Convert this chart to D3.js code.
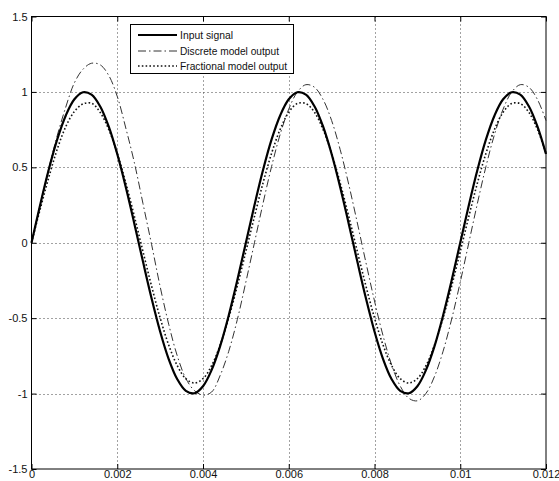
<!DOCTYPE html>
<html>
<head>
<meta charset="utf-8">
<script src="https://cdn.jsdelivr.net/npm/d3@7"></script>
<style>
  html, body { margin: 0; padding: 0; background: #fff; }
  svg { display: block; }
  text { font-family: "Liberation Sans", Arial, sans-serif; fill: #111; }
</style>
</head>
<body>
<svg id="chart" width="559" height="481"></svg>
<script>
// ---- data ----
const timeS = [0,0.0002,0.0004,0.0006,0.0008,0.0010,0.0012,0.0014,0.0016,0.0018,
  0.0020,0.0022,0.0024,0.0026,0.0028,0.0030,0.0032,0.0034,0.0036,0.0038,
  0.0040,0.0042,0.0044,0.0046,0.0048,0.0050,0.0052,0.0054,0.0056,0.0058,
  0.0060,0.0062,0.0064,0.0066,0.0068,0.0070,0.0072,0.0074,0.0076,0.0078,
  0.0080,0.0082,0.0084,0.0086,0.0088,0.0090,0.0092,0.0094,0.0096,0.0098,
  0.0100,0.0102,0.0104,0.0106,0.0108,0.0110,0.0112,0.0114,0.0116,0.0118,0.0120];

const inputSignal = [0,0.249,0.482,0.685,0.844,0.951,0.998,0.982,0.905,0.771,
  0.588,0.368,0.125,-0.125,-0.368,-0.588,-0.771,-0.905,-0.982,-0.998,
  -0.951,-0.844,-0.685,-0.482,-0.249,
  0,0.249,0.482,0.685,0.844,0.951,0.998,0.982,0.905,0.771,
  0.588,0.368,0.125,-0.125,-0.368,-0.588,-0.771,-0.905,-0.982,-0.998,
  -0.951,-0.844,-0.685,-0.482,-0.249,
  0,0.249,0.482,0.685,0.844,0.951,0.998,0.982,0.905,0.771,0.588];

const discreteOutput = [0,0.25,0.49,0.71,0.90,1.06,1.15,1.19,1.18,1.11,
  0.97,0.76,0.53,0.26,-0.01,-0.29,-0.54,-0.75,-0.90,-0.98,
  -1.01,-0.99,-0.88,-0.72,-0.51,-0.26,
  0,0.261,0.506,0.719,0.886,0.999,1.048,1.031,0.950,0.810,
  0.617,0.386,0.131,-0.131,-0.386,-0.617,-0.810,-0.950,-1.031,-1.048,
  -0.999,-0.886,-0.719,-0.506,-0.261,0,0.261,0.506,0.719,0.886,
  0.999,1.048,1.031,0.950,0.810];

const fractionalOutput = [0,0.22,0.43,0.62,0.77,0.87,0.92,0.925,0.865,0.752,
  0.593,0.396,0.174,
  -0.058,-0.287,-0.498,-0.678,-0.815,-0.901,-0.930,-0.901,-0.815,-0.678,-0.498,-0.287,-0.058,
  0.174,0.396,0.593,0.752,0.865,0.923,0.923,0.865,0.752,0.593,0.396,0.174,
  -0.058,-0.287,-0.498,-0.678,-0.815,-0.901,-0.930,-0.901,-0.815,-0.678,-0.498,-0.287,-0.058,
  0.174,0.396,0.593,0.752,0.865,0.923,0.923,0.865,0.752,0.593];

const xTicks = [0,0.002,0.004,0.006,0.008,0.010,0.012];
const xTickLabels = ["0","0.002","0.004","0.006","0.008","0.01","0.012"];
const yTicks = [-1.5,-1,-0.5,0,0.5,1,1.5];
const yTickLabels = ["-1.5","-1","-0.5","0","0.5","1","1.5"];

const seriesNames = ["Input signal","Discrete model output","Fractional model output"];

// ---- layout ----
const svg = d3.select("#chart");
const L = 31.5, R = 546, T = 16.5, B = 469;
const x = d3.scaleLinear().domain([0, 0.012]).range([L, R]);
const y = d3.scaleLinear().domain([-1.5, 1.5]).range([B, T]);

// grid
const grid = svg.append("g");
grid.selectAll("line.gx").data(xTicks.slice(1, -1)).enter().append("line")
  .attr("x1", d => Math.round(x(d)) + 0.5).attr("x2", d => Math.round(x(d)) + 0.5)
  .attr("y1", T).attr("y2", B)
  .attr("stroke", "#444").attr("stroke-width", 1).attr("stroke-dasharray", "1,3");
grid.selectAll("line.gy").data(yTicks.slice(1, -1)).enter().append("line")
  .attr("y1", d => Math.round(y(d)) + 0.5).attr("y2", d => Math.round(y(d)) + 0.5)
  .attr("x1", L).attr("x2", R)
  .attr("stroke", "#444").attr("stroke-width", 1).attr("stroke-dasharray", "1,3");

// curves
const line = (vals) => d3.line()
  .x((d, i) => x(timeS[i]))
  .y(d => y(d))
  .curve(d3.curveCatmullRom.alpha(0.5))(vals);

svg.append("path").attr("d", line(discreteOutput))
  .attr("fill", "none").attr("stroke", "#333").attr("stroke-width", 1)
  .attr("stroke-dasharray", "8,3,1.5,3");
svg.append("path").attr("d", line(fractionalOutput))
  .attr("fill", "none").attr("stroke", "#111").attr("stroke-width", 1.6)
  .attr("stroke-dasharray", "1.6,2.2");
svg.append("path").attr("d", line(inputSignal))
  .attr("fill", "none").attr("stroke", "#000").attr("stroke-width", 2.2);

// axes (inward ticks, box)
const axB = d3.axisBottom(x).tickValues(xTicks).tickSize(-5).tickPadding(2)
  .tickFormat((d, i) => xTickLabels[i]);
const axL = d3.axisLeft(y).tickValues(yTicks).tickSize(-5).tickPadding(4)
  .tickFormat((d, i) => yTickLabels[i]);
const axT = d3.axisTop(x).tickValues(xTicks).tickSize(-5).tickFormat("");
const axR = d3.axisRight(y).tickValues(yTicks).tickSize(-5).tickFormat("");

function styleAxis(g) {
  g.select(".domain").remove();
  g.selectAll("line").attr("stroke", "#000");
  g.selectAll("text").attr("font-size", 11).attr("fill", "#111")
    .style("font-family", "'Liberation Sans', Arial, sans-serif");
}
svg.append("g").attr("transform", `translate(0,${B})`).call(axB).call(styleAxis)
  .selectAll("text").attr("dy", "0.66em");
svg.append("g").attr("transform", `translate(${L},0)`).call(axL).call(styleAxis);
svg.append("g").attr("transform", `translate(0,${T})`).call(axT).call(styleAxis);
svg.append("g").attr("transform", `translate(${R},0)`).call(axR).call(styleAxis);

svg.append("rect").attr("x", L).attr("y", T).attr("width", R - L).attr("height", B - T)
  .attr("fill", "none").attr("stroke", "#000").attr("stroke-width", 1);

// legend
const lg = svg.append("g");
lg.append("rect").attr("x", 130.5).attr("y", 24.5).attr("width", 163).attr("height", 49)
  .attr("fill", "#fff").attr("stroke", "#000").attr("stroke-width", 1);
const rowsY = [35, 51, 66];
const styles = [
  {w: 2.2, dash: null, c: "#000"},
  {w: 1, dash: "8,3,1.5,3", c: "#333"},
  {w: 1.6, dash: "1.6,2.2", c: "#111"}
];
const textLens = [53, 99, 107];
seriesNames.forEach((name, i) => {
  const l = lg.append("line").attr("x1", 138).attr("x2", 177)
    .attr("y1", rowsY[i]).attr("y2", rowsY[i])
    .attr("stroke", styles[i].c).attr("stroke-width", styles[i].w);
  if (styles[i].dash) l.attr("stroke-dasharray", styles[i].dash);
  lg.append("text").attr("x", 180).attr("y", rowsY[i]).attr("dy", "0.35em")
    .attr("font-size", 11).attr("textLength", textLens[i])
    .attr("lengthAdjust", "spacingAndGlyphs").text(name);
});
</script>
</body>
</html>
